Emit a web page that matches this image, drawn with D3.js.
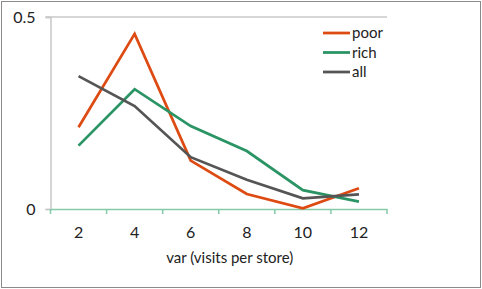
<!DOCTYPE html>
<html>
<head>
<meta charset="utf-8">
<script src="https://cdn.jsdelivr.net/npm/d3@7"></script>
<style>
  body { margin: 0; background: #fff; }
  text { font-family: Lato, "Open Sans", sans-serif; fill: #222; }
</style>
</head>
<body>
<svg id="chart"></svg>
<script>
const categories = [2, 4, 6, 8, 10, 12];
const poor = [0.213, 0.456, 0.126, 0.039, 0.002, 0.054];
const rich = [0.165, 0.312, 0.216, 0.151, 0.049, 0.019];
const all  = [0.346, 0.268, 0.135, 0.076, 0.028, 0.038];
const yTicks = [0, 0.5];

const series = [
  { name: "poor", values: poor, color: "#dd4a12" },
  { name: "rich", values: rich, color: "#2a9464" },
  { name: "all",  values: all,  color: "#555555" }
];

const width = 482, height = 289;
const margin = { top: 17, right: 95, bottom: 80, left: 50.5 };
const w = width - margin.left - margin.right;
const h = height - margin.top - margin.bottom;

const svg = d3.select("#chart").attr("width", width).attr("height", height);

// outer frame
svg.append("rect")
  .attr("x", 1.5).attr("y", 1.5)
  .attr("width", width - 3).attr("height", height - 3)
  .attr("fill", "#fff").attr("stroke", "#8a8a8a").attr("stroke-width", 1);

const g = svg.append("g").attr("transform", `translate(${margin.left},${margin.top})`);

const x = d3.scaleBand().domain(categories).range([0, w]);
const y = d3.scaleLinear().domain([0, 0.5]).range([h, 0]);

// gridline at 0.5
g.selectAll("line.grid")
  .data(yTicks.filter(d => d > 0))
  .join("line")
  .attr("class", "grid")
  .attr("x1", -5).attr("x2", w)
  .attr("y1", d => y(d)).attr("y2", d => y(d))
  .attr("stroke", "#c8c8c8").attr("stroke-width", 1.5);

// y axis
const yAxis = g.append("g")
  .call(d3.axisLeft(y).tickValues(yTicks).tickFormat(d => d === 0 ? "0" : d3.format(".1f")(d)).tickSize(5).tickPadding(10));
yAxis.select(".domain").attr("stroke", "#c8c8c8").attr("stroke-width", 1.5);
yAxis.selectAll(".tick line").attr("stroke", "#c8c8c8").attr("stroke-width", 1.5);
yAxis.selectAll("text").style("font-size", "16px").attr("fill", "#222");

// x axis
const xAxis = g.append("g")
  .attr("transform", `translate(0,${h})`)
  .call(d3.axisBottom(x).tickSize(0).tickPadding(18));
xAxis.select(".domain").attr("stroke", "#86c9a8").attr("stroke-width", 1.5);
xAxis.selectAll("text").style("font-size", "16px").attr("fill", "#222");

// x tick marks at band edges
const edges = categories.map(c => x(c)).concat([w]);
xAxis.selectAll("line.edge")
  .data(edges)
  .join("line")
  .attr("class", "edge")
  .attr("x1", d => d).attr("x2", d => d)
  .attr("y1", 0).attr("y2", 5)
  .attr("stroke", "#86c9a8").attr("stroke-width", 1.5);

// x axis title (Excel centres it on the chart area, a bit right of the plot centre)
g.append("text")
  .attr("x", w / 2 + 11).attr("y", h + 54)
  .attr("text-anchor", "middle")
  .style("font-size", "15px")
  .text("var (visits per store)");

// lines
const line = d3.line()
  .x((d, i) => x(categories[i]) + x.bandwidth() / 2)
  .y(d => y(d));

g.selectAll("path.series")
  .data(series)
  .join("path")
  .attr("class", "series")
  .attr("d", d => line(d.values))
  .attr("fill", "none")
  .attr("stroke", d => d.color)
  .attr("stroke-width", 2.75)
  .attr("stroke-linejoin", "miter");

// legend
const legend = svg.append("g").attr("transform", "translate(323,33)");
const item = legend.selectAll("g")
  .data(series)
  .join("g")
  .attr("transform", (d, i) => `translate(0,${i * 19.5})`);
item.append("line")
  .attr("x1", 0).attr("x2", 27)
  .attr("stroke", d => d.color).attr("stroke-width", 2.75);
item.append("text")
  .attr("x", 29).attr("dy", "0.35em")
  .style("font-size", "15px")
  .text(d => d.name);
</script>
</body>
</html>
